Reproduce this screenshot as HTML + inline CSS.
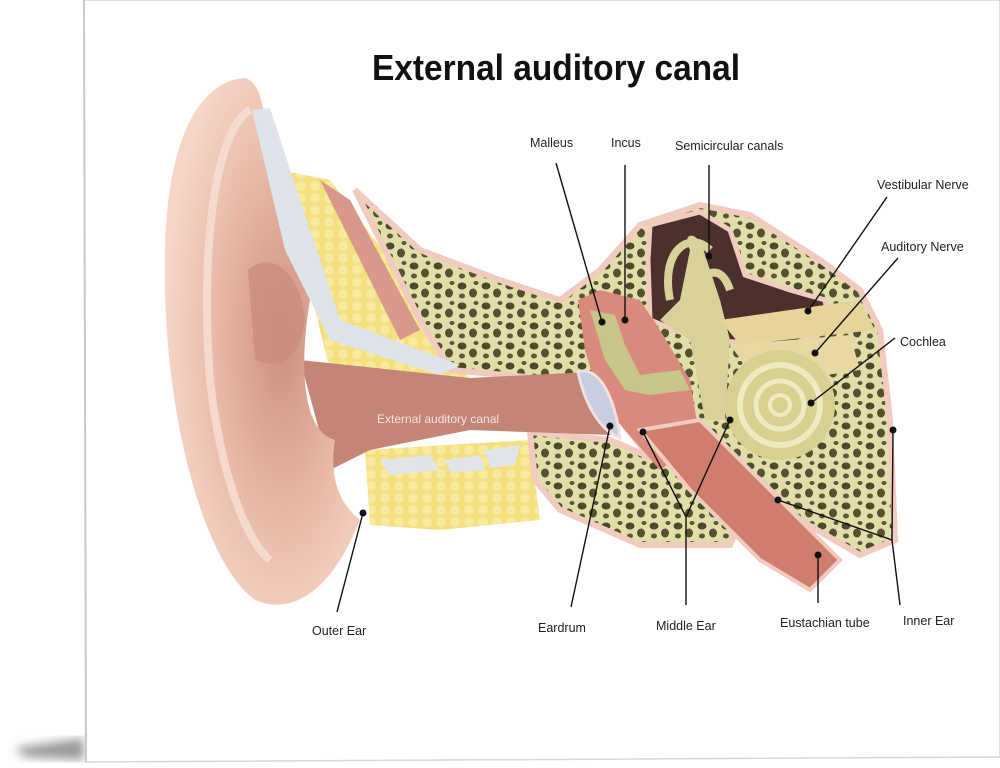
<!DOCTYPE html>
<html><head><meta charset="utf-8"><style>
html,body{margin:0;padding:0;background:#fff;}
svg{display:block;}
text{font-family:"Liberation Sans",sans-serif;}
</style></head><body>
<svg width="1000" height="768" viewBox="0 0 1000 768" xmlns="http://www.w3.org/2000/svg">
<defs>
<pattern id="bone" width="24" height="20" patternUnits="userSpaceOnUse">
<rect width="24" height="20" fill="#e2deaa"/>
<ellipse cx="6" cy="6" rx="4.5" ry="3.5" fill="#4d4a2c"/>
<ellipse cx="17" cy="13" rx="4" ry="4.5" fill="#55502f"/>
<ellipse cx="20" cy="3" rx="2.5" ry="2" fill="#5a5535"/>
<ellipse cx="6" cy="16" rx="3" ry="2.5" fill="#5a5535"/>
</pattern>
<pattern id="fat" width="14" height="12" patternUnits="userSpaceOnUse">
<rect width="14" height="12" fill="#f4e07e"/>
<circle cx="7" cy="6" r="5" fill="#f8ea9e"/>
</pattern>
<radialGradient id="ear" cx="0.6" cy="0.5" r="0.6">
<stop offset="0" stop-color="#cc9080"/><stop offset="0.55" stop-color="#e8b8a6"/><stop offset="1" stop-color="#f5d6c8"/>
</radialGradient>
<filter id="blur"><feGaussianBlur stdDeviation="5"/></filter>
</defs>
<path d="M15 748 L84 738 L84 760 L25 757 Z" fill="#999" filter="url(#blur)"/>
<path d="M84 0 L1000 0 L1000 757 L86 762 Z" fill="#fff" stroke="#d6d6d6" stroke-width="1.5"/>
<line x1="84" y1="0" x2="86" y2="762" stroke="#c8c8c8" stroke-width="2"/>

<text x="372" y="80" font-size="36" font-weight="bold" textLength="368" lengthAdjust="spacingAndGlyphs" fill="#111">External auditory canal</text>

<path d="M280 170 L330 180 L420 300 L470 380 L330 370 Z" fill="url(#fat)"/>
<path d="M365 450 L530 440 L540 520 L440 530 L370 525 Z" fill="url(#fat)"/>
<path d="M320 180 L350 200 L420 330 L400 340 Z" fill="#d8988c"/>
<path d="M355 190 L420 250 L500 280 L560 300 L600 270 L640 225 L700 205 L750 215 L820 260 L860 290 L880 330 L890 420 L895 540 L860 555 L800 520 L760 480 L720 450 L660 470 L620 420 L560 380 L450 370 L420 320 Z" fill="url(#bone)" stroke="#f2cbc0" stroke-width="6"/>
<path d="M530 432 L610 440 L680 470 L740 520 L730 545 L640 545 L560 510 L535 480 Z" fill="url(#bone)" stroke="#f2cbc0" stroke-width="6"/>
<path d="M650 225 L700 212 L730 230 L745 275 L790 290 L825 300 L830 330 L790 345 L700 340 L650 320 L648 260 Z" fill="#4b302c" stroke="#f2cbc0" stroke-width="5"/>
<path d="M578 300 L600 290 L640 300 L660 330 L690 380 L700 440 L660 470 L625 430 L600 400 L585 350 Z" fill="#d98a7c"/>
<path d="M640 430 L700 420 L760 480 L840 560 L810 590 L760 560 L690 490 Z" fill="#cf7d6c" stroke="#f2cbc0" stroke-width="4"/>
<path d="M590 310 L615 315 L625 345 L640 375 L680 370 L690 390 L650 395 L625 390 L605 360 Z" fill="#c9c58a"/>
<path d="M690 250 C680 230 700 230 705 255 L720 300 L730 340 L725 420 L705 420 L690 340 L660 320 L680 300 Z" fill="#d8d29a"/>
<path d="M670 300 C660 250 690 230 710 250 M680 310 C700 270 720 260 730 290" fill="none" stroke="#d8d29a" stroke-width="8"/>
<path d="M720 320 L860 300 L875 330 L740 345 Z" fill="#e6d49a"/>
<path d="M730 345 L850 335 L860 370 L760 385 Z" fill="#e8d8a4"/>
<circle cx="780" cy="405" r="55" fill="#d8d090"/>
<circle cx="780" cy="405" r="40" fill="none" stroke="#f0eac0" stroke-width="6"/>
<circle cx="780" cy="405" r="24" fill="none" stroke="#f0eac0" stroke-width="5"/>
<circle cx="780" cy="405" r="10" fill="none" stroke="#f0eac0" stroke-width="4"/>

<path d="M300 360 L470 378 L590 372 L612 435 L470 430 L370 450 L330 470 Z" fill="#c48476"/>
<path d="M578 372 C600 365 615 400 620 438 C600 430 585 405 578 372 Z" fill="#c8cde0" stroke="#f0e0e0" stroke-width="3"/>
<path d="M245 78 C200 80 165 140 165 260 C162 400 200 560 255 600 C290 615 330 595 360 520 C335 500 330 470 335 440 C300 430 300 360 310 300 C290 240 280 180 265 120 C262 95 255 80 245 78 Z" fill="url(#ear)"/>
<path d="M250 110 C215 130 200 250 210 380 C220 470 245 540 270 560" fill="none" stroke="#f8e0d6" stroke-width="8" opacity="0.8"/>
<path d="M248 270 C270 250 300 270 305 320 C300 360 280 370 255 360 Z" fill="#c98a7c" opacity="0.7"/>
<path d="M252 110 L270 108 L300 200 L340 320 L460 365 L440 375 L330 340 L285 250 Z" fill="#dfe3ea"/>
<path d="M380 460 L430 455 L440 470 L390 475 Z M445 460 L480 455 L485 470 L450 472 Z M485 450 L520 445 L515 465 L490 468 Z" fill="#e2e6ea"/>

<text x="377" y="423" font-size="12" fill="#f6e6e2">External auditory canal</text>

<g stroke="#111" stroke-width="1.4" fill="none">
<line x1="556" y1="163" x2="602" y2="322"/>
<line x1="625" y1="165" x2="625" y2="320"/>
<line x1="709" y1="165" x2="709" y2="256"/>
<line x1="887" y1="197" x2="808" y2="311"/>
<line x1="898" y1="258" x2="815" y2="353"/>
<line x1="895" y1="338" x2="811" y2="403"/>
<line x1="337" y1="612" x2="363" y2="513"/>
<line x1="571" y1="607" x2="610" y2="426"/>
<polyline points="643,432 686,517 730,420"/>
<line x1="686" y1="517" x2="686" y2="605"/>
<line x1="818" y1="555" x2="818" y2="603"/>
<polyline points="893,430 892,540 778,500"/>
<line x1="892" y1="540" x2="900" y2="605"/>
</g>
<g fill="#111">
<circle cx="602" cy="322" r="3.5"/><circle cx="625" cy="320" r="3.5"/><circle cx="709" cy="256" r="3.5"/>
<circle cx="808" cy="311" r="3.5"/><circle cx="815" cy="353" r="3.5"/><circle cx="811" cy="403" r="3.5"/>
<circle cx="363" cy="513" r="3.5"/><circle cx="610" cy="426" r="3.5"/><circle cx="643" cy="432" r="3.5"/>
<circle cx="730" cy="420" r="3.5"/><circle cx="818" cy="555" r="3.5"/><circle cx="893" cy="430" r="3.5"/>
<circle cx="778" cy="500" r="3.5"/>
</g>
<g font-size="12.5" fill="#222">
<text x="530" y="147">Malleus</text>
<text x="611" y="147">Incus</text>
<text x="675" y="150">Semicircular canals</text>
<text x="877" y="189">Vestibular Nerve</text>
<text x="881" y="251">Auditory Nerve</text>
<text x="900" y="346">Cochlea</text>
<text x="312" y="635">Outer Ear</text>
<text x="538" y="632">Eardrum</text>
<text x="656" y="630">Middle Ear</text>
<text x="780" y="627">Eustachian tube</text>
<text x="903" y="625">Inner Ear</text>
</g>
</svg>
</body></html>
